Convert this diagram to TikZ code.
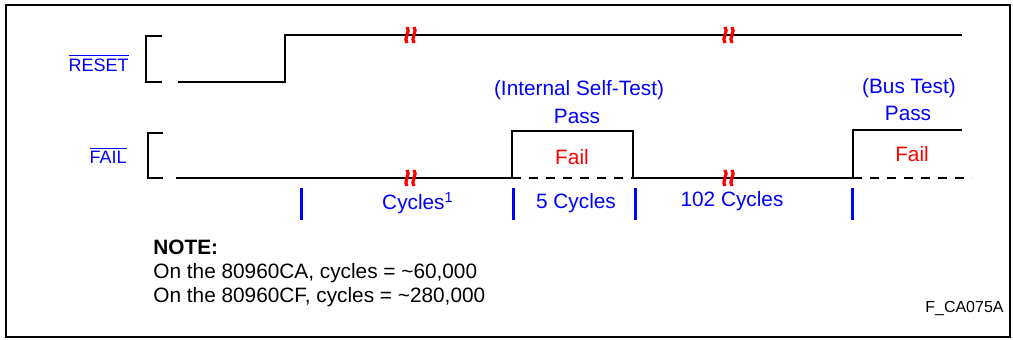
\documentclass[tikz,border=0pt]{standalone}
\usepackage{fontspec}
\setmainfont{Liberation Sans}
\usetikzlibrary{calc}

\tikzset{
  sig/.style={line width=1.4pt},
  dsig/.style={line width=1.4pt, dash pattern=on 4.5pt off 4pt},
  tickln/.style={blue, line width=1.5pt},
  brk/.style={red, line width=1.6pt},
  sgname/.style={text=blue, inner sep=0pt, font=\fontsize{9}{11}\selectfont},
  lbl/.style={text=blue, inner sep=0pt, font=\fontsize{10.4}{12}\selectfont},
  notetxt/.style={inner sep=0pt, anchor=west, font=\fontsize{10.4}{12}\selectfont},
}
% red break mark on a signal line
\newcommand{\sigbreak}[1]{%
  \draw[brk, shift={(#1)}] (-3,-8) .. controls (1,-4) and (-7,4) .. (-3,8);
  \draw[brk, shift={(#1)}] (4,-8) .. controls (8,-4) and (0,4) .. (4,8);
}

\begin{document}
\begin{tikzpicture}[x=0.5pt, y=-0.5pt]
\useasboundingbox (0,0) rectangle (1013,339);
% frame
\draw[line width=1pt] (6,5) rectangle (1010,337);
% RESET
\node[sgname, anchor=east] (rst) at (129,63) {$\overline{\mbox{RESET}}$};
\draw[sig] (162,36) -- (146,36) -- (146,82) -- (162,82);
\draw[sig] (178,82) -- (285,82) -- (285,35) -- (962,35);
\sigbreak{410,35}
\sigbreak{728,35}
% FAIL
\node[sgname, anchor=east] (fail) at (127,155) {$\overline{\mbox{FAIL}}$};
\draw[sig] (163,133) -- (148,133) -- (148,178) -- (163,178);
\draw[sig] (176,178) -- (512,178) -- (512,131) -- (633,131) -- (633,178)
  -- (853,178) -- (853,130) -- (962,130);
\draw[dsig] (512,178) -- (633,178);
\draw[dsig] (853,178) -- (972,178);
\sigbreak{410,178}
\sigbreak{728,178}
% pulse labels
\node[lbl] (ist) at (579,90) {(Internal Self-Test)};
\node[lbl] (pass1) at (577,116) {Pass};
\node[lbl, text=red] (fail1) at (572,157) {Fail};
\node[lbl] (bt) at (909,88) {(Bus Test)};
\node[lbl] (pass2) at (908,113) {Pass};
\node[lbl, text=red] (fail2) at (912,154) {Fail};
% cycle ticks
\foreach \tx in {301,513,635,852}
  \draw[tickln] (\tx,188) -- (\tx,220);
\node[lbl] (cyc) at (418,203) {Cycles\textsuperscript{1}};
\node[lbl] (cyc5) at (576,203) {5 Cycles};
\node[lbl] (cyc102) at (732,201) {102 Cycles};
% note
\node[notetxt] (note) at (153,247) {\bfseries NOTE:};
\node[notetxt] (ca) at (153,273) {On the 80960CA, cycles = \char`\~60,000};
\node[notetxt] (cf) at (153,297) {On the 80960CF, cycles = \char`\~280,000};
\node[inner sep=0pt, anchor=east, font=\fontsize{8}{10}\selectfont] (fig) at (1004,308) {F\_CA075A};
\end{tikzpicture}
\end{document}
